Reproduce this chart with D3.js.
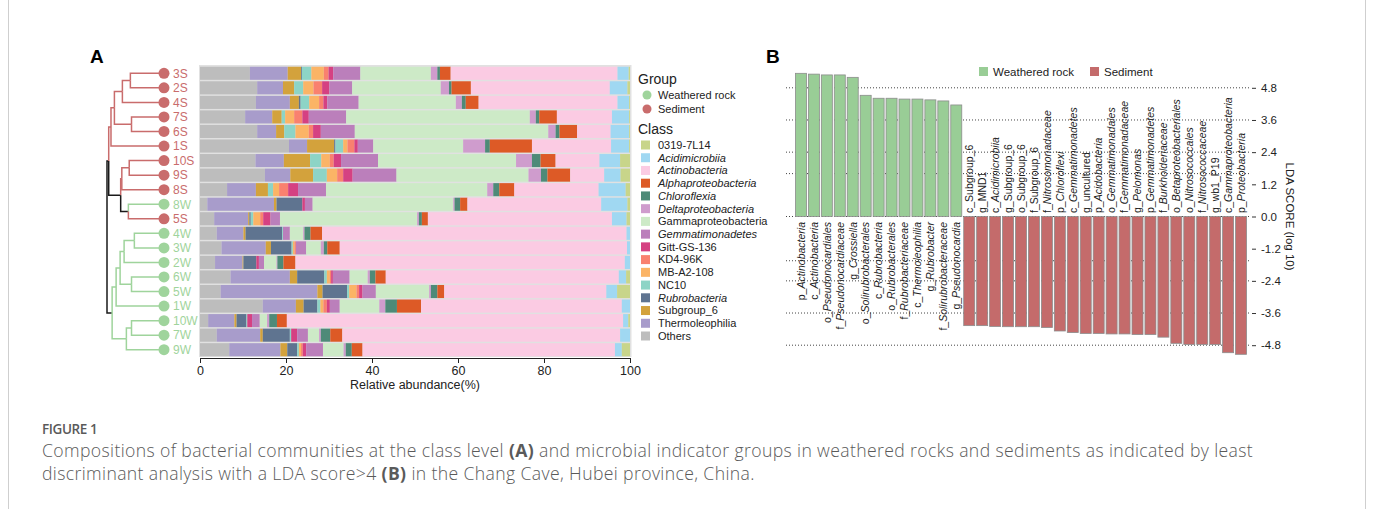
<!DOCTYPE html>
<html>
<head>
<meta charset="utf-8">
<script src="https://cdnjs.cloudflare.com/ajax/libs/d3/7.8.5/d3.min.js"></script>
<style>
  body { margin: 0; background: #fff; }
  svg text { font-family: "Liberation Sans", Arial, sans-serif; }
  .cap { font-family: "Open Sans", sans-serif !important; }
</style>
</head>
<body>
<svg id="fig" width="1375" height="509"></svg>
<script>
// ---------- data: panel A ----------
const samples = ["3S","2S","4S","7S","6S","1S","10S","9S","8S","8W","5S",
                 "4W","3W","2W","6W","5W","1W","10W","7W","9W"];

// legend order (top to bottom)
const classes = ["0319-7L14","Acidimicrobiia","Actinobacteria","Alphaproteobacteria",
  "Chloroflexia","Deltaproteobacteria","Gammaproteobacteria","Gemmatimonadetes",
  "Gitt-GS-136","KD4-96K","MB-A2-108","NC10","Rubrobacteria","Subgroup_6",
  "Thermoleophilia","Others"];
const classColors = ["#c8d58a","#a0d8f2","#fbcbe3","#dd5a26","#4e8a78","#cf9ccd",
  "#cdeac7","#bb7fbb","#d54182","#f9816f","#fbb466","#8dd4c6","#5f7490","#d3a23c",
  "#a89ccb","#bdbdbd"];
const italicClasses = ["Acidimicrobiia","Actinobacteria","Alphaproteobacteria",
  "Chloroflexia","Deltaproteobacteria","Gemmatimonadetes","Rubrobacteria"];

// stacking order, left to right = legend order reversed
const stackOrder = classes.slice().reverse();

// relative abundance (%), one row per sample, columns in stackOrder
const abundance = [
  [11.6, 8.8, 3.1, 0.2, 2.2, 2.9, 1.1, 1.1, 6.3, 16.4, 1.5, 0.6, 2.5, 38.8, 2.6, 0.3],
  [13.3, 6.0, 2.6, 0.0, 2.1, 2.4, 2.0, 1.7, 5.3, 20.6, 1.9, 0.6, 4.5, 32.3, 4.1, 0.6],
  [13.0, 7.9, 2.1, 0.4, 2.0, 2.3, 1.0, 0.9, 7.3, 22.6, 1.4, 0.9, 3.0, 32.3, 2.7, 0.2],
  [10.5, 6.3, 2.2, 0.0, 0.8, 2.1, 1.9, 1.5, 8.7, 42.7, 1.4, 0.8, 4.1, 12.8, 4.0, 0.2],
  [13.3, 4.4, 1.9, 0.0, 2.6, 3.1, 1.0, 1.8, 7.9, 45.0, 1.7, 0.9, 4.1, 7.8, 4.3, 0.2],
  [20.7, 4.2, 6.3, 0.3, 1.8, 1.0, 1.6, 0.8, 3.6, 20.9, 5.1, 1.1, 9.8, 18.4, 4.2, 0.2],
  [12.9, 6.6, 6.1, 0.0, 2.6, 2.0, 0.9, 1.7, 8.6, 32.1, 3.7, 2.0, 3.5, 10.2, 4.8, 2.3],
  [15.1, 5.9, 5.3, 0.0, 3.2, 2.4, 1.4, 2.2, 10.2, 30.7, 2.9, 1.5, 5.3, 7.9, 3.8, 2.2],
  [6.3, 6.7, 2.8, 0.0, 1.2, 1.4, 2.1, 2.3, 6.5, 37.5, 1.4, 1.4, 3.5, 19.6, 6.3, 1.0],
  [1.7, 15.5, 0.6, 6.0, 0.0, 0.0, 0.0, 0.6, 1.8, 32.7, 0.3, 1.3, 1.7, 31.1, 6.1, 0.6],
  [3.3, 7.9, 0.3, 0.3, 0.6, 1.6, 0.7, 1.7, 2.2, 31.9, 0.4, 0.7, 1.4, 42.8, 3.4, 0.8],
  [3.9, 6.2, 0.5, 8.5, 0.2, 0.0, 0.0, 0.0, 1.6, 3.1, 0.3, 1.4, 2.7, 70.8, 0.8, 0.0],
  [5.0, 10.3, 1.2, 4.8, 0.3, 0.4, 0.3, 0.0, 2.4, 3.4, 0.7, 0.8, 2.9, 66.8, 0.7, 0.0],
  [3.5, 6.4, 0.2, 3.0, 0.0, 0.0, 0.0, 0.6, 1.2, 2.9, 0.2, 1.4, 2.8, 76.6, 1.2, 0.0],
  [7.1, 13.8, 1.7, 6.3, 0.6, 0.7, 0.3, 0.4, 3.9, 4.2, 0.5, 1.3, 2.4, 54.2, 1.7, 0.9],
  [4.8, 22.5, 1.2, 5.7, 0.5, 1.7, 0.6, 0.8, 3.1, 12.4, 0.4, 1.5, 1.6, 37.7, 2.5, 3.0],
  [14.6, 7.7, 1.8, 3.2, 0.7, 0.7, 0.8, 0.7, 2.3, 9.2, 1.4, 2.7, 5.6, 46.7, 1.9, 0.0],
  [1.9, 6.1, 0.5, 2.3, 0.2, 0.0, 0.0, 1.1, 1.8, 1.7, 0.5, 1.8, 2.3, 78.2, 1.2, 0.4],
  [3.9, 10.1, 0.6, 6.3, 0.3, 0.0, 0.0, 1.4, 2.5, 2.6, 0.4, 2.2, 2.8, 64.6, 2.3, 0.0],
  [6.8, 11.9, 1.6, 2.3, 0.4, 0.5, 0.4, 0.8, 3.9, 4.8, 0.5, 1.4, 2.5, 58.7, 1.6, 1.9]
];
const abundanceTicks = [0, 20, 40, 60, 80, 100];

// hierarchical clustering of samples (h = merge height, relative)
const dendro = {h: 1.00, children: [
  {h: 0.97, children: [
    {h: 0.93, children: [
      {h: 0.87, children: [
        {h: 0.73, children: [{h: 0.59, children: [{name: "3S"}, {name: "2S"}]}, {name: "4S"}]},
        {h: 0.57, children: [{name: "7S"}, {name: "6S"}]}
      ]},
      {name: "1S"}
    ]},
    {h: 0.76, children: [
      {h: 0.74, children: [{h: 0.61, children: [{name: "10S"}, {name: "9S"}]}, {name: "8S"}]},
      {h: 0.625, children: [{name: "8W"}, {name: "5S"}]}
    ]}
  ]},
  {h: 0.91, children: [
    {h: 0.84, children: [
      {h: 0.77, children: [
        {h: 0.70, children: [{h: 0.52, children: [{name: "4W"}, {name: "3W"}]}, {name: "2W"}]},
        {h: 0.57, children: [{name: "6W"}, {name: "5W"}]}
      ]},
      {name: "1W"}
    ]},
    {h: 0.66, children: [{h: 0.57, children: [{name: "10W"}, {name: "7W"}]}, {name: "9W"}]}
  ]}
]};

const groupNames  = ["Weathered rock", "Sediment"];
const groupColors = ["#9fd49c", "#c96c6c"];

// ---------- data: panel B ----------
const ldaTaxa = ["p_Actinobacteria","c_Actinobacteria","o_Pseudonocardiales",
  "f_Pseudonocardiaceae","g_Crossiella","o_Solirubrobacterales","c_Rubrobacteria",
  "o_Rubrobacterales","f_Rubrobacteriaceae","c_Thermoleophilia","g_Rubrobacter",
  "f_Solirubrobacteraceae","g_Pseudonocardia",
  "c_Subgroup_6","g_MND1","c_Acidimicrobiia","g_Subgroup_6","o_Subgroup_6","f_Subgroup_6",
  "f_Nitrosomonadaceae","p_Chloroflexi","c_Gemmatimonadetes","g_uncultured",
  "p_Acidobacteria","o_Gemmatimonadales","f_Gemmatimonadaceae","g_Pelomonas",
  "p_Gemmatimonadetes","f_Burkholderiaceae","o_Betaproteobacteriales",
  "o_Nitrosococcales","f_Nitrosococcaceae","g_wb1_P19","c_Gammaproteobacteria",
  "p_Proteobacteria"];
const ldaScores = [5.34, 5.31, 5.28, 5.28, 5.19, 4.52, 4.41, 4.41, 4.38, 4.38, 4.35, 4.31, 4.16,
  -4.07, -4.07, -4.10, -4.11, -4.11, -4.11, -4.14, -4.27, -4.33, -4.36, -4.36, -4.38, -4.38,
  -4.40, -4.40, -4.50, -4.73, -4.77, -4.77, -4.77, -5.08, -5.14];
const plainTaxa = ["c_Subgroup_6","g_MND1","g_Subgroup_6","o_Subgroup_6","f_Subgroup_6",
  "g_uncultured","g_wb1_P19"];
const ldaTicks = [4.8, 3.6, 2.4, 1.2, 0, -1.2, -2.4, -3.6, -4.8];
const ldaGrid  = [4.8, 3.6, 2.4, 1.6, 0, -1.65, -2.4, -3.6, -4.8];
const ldaColors = ["#99cd96", "#c46b6b"];

// ---------- drawing ----------
const svg = d3.select("#fig");

// page frame
svg.append("rect").attr("x", 8.5).attr("y", -20).attr("width", 1357).attr("height", 560)
  .attr("rx", 6).attr("fill", "none").attr("stroke", "#cfcfcf");

// panel letters
svg.append("text").attr("x", 90).attr("y", 63).attr("font-size", 19)
  .attr("font-weight", "bold").text("A");
svg.append("text").attr("x", 766).attr("y", 63).attr("font-size", 19)
  .attr("font-weight", "bold").text("B");

// ===== Panel A =====
const x = d3.scaleLinear().domain([0, 100]).range([200, 630]);
const y = d3.scaleBand().domain(samples).range([66, 357]).paddingInner(0.1).paddingOuter(0.05);

const rows = samples.map((s, i) => {
  const r = {sample: s};
  stackOrder.forEach((c, j) => r[c] = abundance[i][j]);
  return r;
});
const series = d3.stack().keys(stackOrder)(rows);
const colorOf = d3.scaleOrdinal(classes, classColors);

const gA = svg.append("g");
gA.append("rect").attr("x", x(0) - 1).attr("y", y.range()[0] - 1)
  .attr("width", x(100) - x(0) + 2.5).attr("height", y.range()[1] - y.range()[0] + 1)
  .attr("fill", "#e1e1e1");

gA.selectAll("g.layer").data(series).join("g").attr("class", "layer")
  .attr("fill", d => colorOf(d.key))
  .selectAll("rect").data(d => d).join("rect")
  .attr("x", d => x(d[0]))
  .attr("y", d => y(d.data.sample))
  .attr("width", d => Math.max(0, x(d[1]) - x(d[0])))
  .attr("height", y.bandwidth());

const axA = gA.append("g").attr("transform", "translate(0,358)")
  .call(d3.axisBottom(x).tickValues(abundanceTicks).tickSize(5).tickSizeOuter(0).tickPadding(3));
axA.selectAll("text").attr("font-size", 12.5).attr("fill", "#222")
  .style("font-family", "Liberation Sans, Arial, sans-serif");
axA.select(".domain").attr("stroke", "#222");
axA.selectAll(".tick line").attr("stroke", "#222");
gA.append("text").attr("x", 415).attr("y", 389).attr("text-anchor", "middle")
  .attr("font-size", 12.5).attr("fill", "#222").text("Relative abundance(%)");

// dendrogram
const groupOf = name => name.endsWith("S") ? 1 : 0;
const root = d3.hierarchy(dendro);
const hx = d3.scaleLinear().domain([0, 1]).range([164, 107]);
root.eachAfter(n => {
  if (!n.children) {
    n.px = hx(0);
    n.py = y(n.data.name) + y.bandwidth() / 2;
    n.grp = groupOf(n.data.name);
  } else {
    n.px = hx(n.data.h);
    n.py = d3.mean(n.children, c => c.py);
    const gs = new Set(n.children.map(c => c.grp));
    n.grp = gs.size === 1 && !gs.has(-1) ? n.children[0].grp : -1;
  }
});
const linkColor = n => (n.parent === root || n.grp < 0) ? "#1a1a1a" : groupColors[n.grp];

gA.append("g").attr("fill", "none").attr("stroke-width", 1.5)
  .selectAll("path").data(root.descendants().filter(n => n.parent)).join("path")
  .attr("stroke", linkColor)
  .attr("d", n => `M${n.parent.px},${n.parent.py}V${n.py}H${n.px}`);

const leaves = root.leaves();
gA.append("g").selectAll("circle").data(leaves).join("circle")
  .attr("cx", n => n.px).attr("cy", n => n.py).attr("r", 5.5)
  .attr("fill", n => groupColors[n.grp]);
gA.append("g").selectAll("text").data(leaves).join("text")
  .attr("x", 173).attr("y", n => n.py).attr("dy", "0.36em")
  .attr("font-size", 12).attr("fill", n => groupColors[n.grp])
  .text(n => n.data.name);

// legend A
const lgA = svg.append("g").attr("transform", "translate(638,0)");
lgA.append("text").attr("x", 0).attr("y", 84).attr("font-size", 14).attr("fill", "#222").text("Group");
lgA.selectAll("circle").data(groupNames).join("circle")
  .attr("cx", 9).attr("cy", (d, i) => 95 + i * 14).attr("r", 4.5)
  .attr("fill", (d, i) => groupColors[i]);
lgA.selectAll("text.grp").data(groupNames).join("text").attr("class", "grp")
  .attr("x", 20).attr("y", (d, i) => 95 + i * 14).attr("dy", "0.35em")
  .attr("font-size", 11).attr("fill", "#222").text(d => d);
lgA.append("text").attr("x", 0).attr("y", 134).attr("font-size", 14).attr("fill", "#222").text("Class");
const clsY = d3.scalePoint().domain(classes).range([145, 336]);
lgA.selectAll("rect").data(classes).join("rect")
  .attr("x", 3).attr("y", d => clsY(d) - 4.5).attr("width", 9).attr("height", 9)
  .attr("fill", d => colorOf(d));
lgA.selectAll("text.cls").data(classes).join("text").attr("class", "cls")
  .attr("x", 20).attr("y", d => clsY(d)).attr("dy", "0.35em")
  .attr("font-size", 11).attr("fill", "#222")
  .attr("font-style", d => italicClasses.includes(d) ? "italic" : "normal")
  .text(d => d);

// ===== Panel B =====
const xb = d3.scaleBand().domain(ldaTaxa).range([793.5, 1248.5]).padding(0.15);
const yb = d3.scaleLinear().domain([-4.8, 4.8]).range([345.2, 87.8]);
const gB = svg.append("g");

gB.append("g").selectAll("line").data(ldaGrid).join("line")
  .attr("x1", 786).attr("x2", 1251).attr("y1", d => yb(d)).attr("y2", d => yb(d))
  .attr("stroke", "#444").attr("stroke-width", 1).attr("stroke-dasharray", "1,2");

gB.append("g").selectAll("rect").data(ldaTaxa).join("rect")
  .attr("x", d => xb(d))
  .attr("width", xb.bandwidth())
  .attr("y", (d, i) => yb(Math.max(0, ldaScores[i])))
  .attr("height", (d, i) => Math.abs(yb(ldaScores[i]) - yb(0)))
  .attr("fill", (d, i) => ldaScores[i] > 0 ? ldaColors[0] : ldaColors[1])
  .attr("stroke", "#8c8c8c").attr("stroke-width", 0.8);

const lbl = gB.append("g").selectAll("text").data(ldaTaxa).join("text")
  .attr("transform", (d, i) => `translate(${xb(d) + xb.bandwidth() / 2},${ldaScores[i] > 0 ? yb(0) + 5.5 : yb(0) - 3.5}) rotate(-90)`)
  .attr("text-anchor", (d, i) => ldaScores[i] > 0 ? "end" : "start")
  .attr("dy", "0.36em").attr("font-size", 10.5).attr("fill", "#222");
lbl.append("tspan").text(d => d.slice(0, 2));
lbl.append("tspan").attr("font-style", d => plainTaxa.includes(d) ? "normal" : "italic")
  .text(d => d.slice(2));

const axB = gB.append("g").attr("transform", "translate(1252,0)")
  .call(d3.axisRight(yb).tickValues(ldaTicks).tickSize(4).tickPadding(5)
    .tickFormat(d => d.toFixed(1)));
axB.select(".domain").remove();
axB.selectAll(".tick line").attr("stroke", "#333");
axB.selectAll("text").attr("font-size", 11.5).attr("fill", "#222")
  .style("font-family", "Liberation Sans, Arial, sans-serif");
gB.append("text").attr("transform", `translate(1290,${yb(0)}) rotate(90)`)
  .attr("text-anchor", "middle").attr("dy", "0.35em")
  .attr("font-size", 11.5).attr("fill", "#222").text("LDA SCORE (log 10)");

// legend B
const lgB = gB.append("g");
const lgBx = [979, 1090];
lgB.selectAll("rect").data(groupNames).join("rect")
  .attr("x", (d, i) => lgBx[i]).attr("y", 67).attr("width", 9).attr("height", 9)
  .attr("fill", (d, i) => ldaColors[i]);
lgB.selectAll("text").data(groupNames).join("text")
  .attr("x", (d, i) => lgBx[i] + 14).attr("y", 72).attr("dy", "0.35em")
  .attr("font-size", 11.5).attr("fill", "#222").text(d => d);

// ===== caption =====
const cap = svg.append("g").attr("fill", "#5a5a5a");
cap.append("text").attr("class", "cap").attr("x", 42).attr("y", 434)
  .attr("font-size", 13.5).attr("font-weight", 600).attr("letter-spacing", -0.4).text("FIGURE 1");
const capLines = [
  ["Compositions of bacterial communities at the class level ", "(A)",
   " and microbial indicator groups in weathered rocks and sediments as indicated by least"],
  ["discriminant analysis with a LDA score>4 ", "(B)", " in the Chang Cave, Hubei province, China."]
];
capLines.forEach((parts, i) => {
  const t = cap.append("text").attr("class", "cap").attr("x", 42).attr("y", 457 + i * 23)
    .attr("font-size", 17.6).attr("letter-spacing", 0.38);
  parts.forEach((p, j) => t.append("tspan").attr("class", "cap")
    .attr("font-weight", j === 1 ? 700 : 300).text(p));
});
</script>
</body>
</html>
